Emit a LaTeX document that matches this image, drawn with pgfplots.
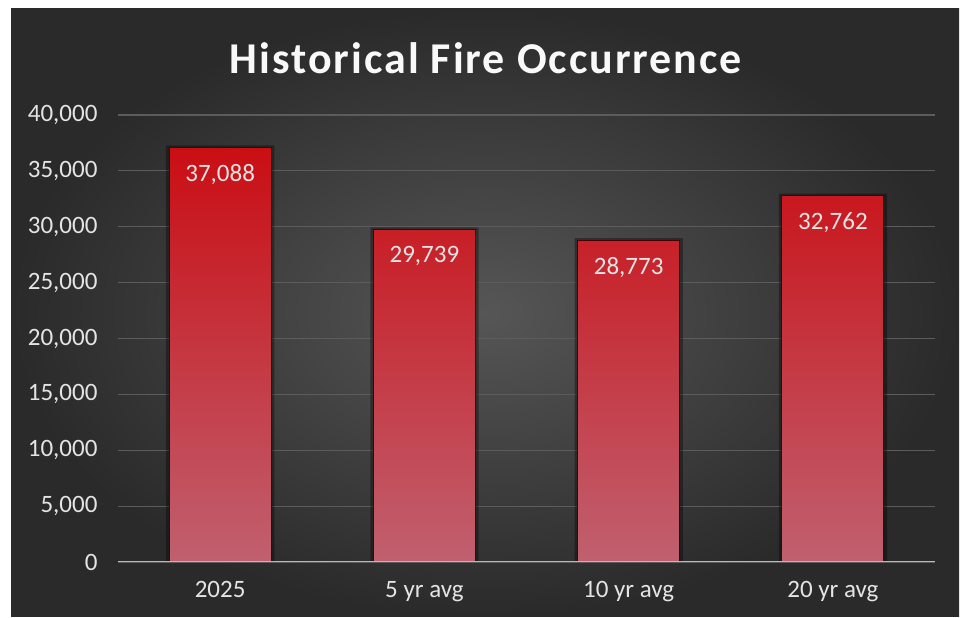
\documentclass[border=0pt]{standalone}
\usepackage{fontspec}
\setmainfont{Carlito}
\usepackage{pgfplots}
\pgfplotsset{compat=1.18}
\definecolor{bgdark}{HTML}{2A2A2A}
\definecolor{bglight}{HTML}{565656}
\definecolor{gridc}{HTML}{5C5C5C}
\definecolor{bartop}{HTML}{CA0E14}
\definecolor{barbot}{HTML}{C0606F}
\definecolor{txt}{HTML}{E4E4E4}

\begin{document}
\begin{tikzpicture}[x=1pt,y=1pt]
% page and dark chart area
\fill[white] (0,0) rectangle (969,618);
\shade[inner color=bglight, outer color=bgdark] (11,1) rectangle (959,609);
\node[text=white!95!gray, font=\fontsize{44}{48}\selectfont\bfseries\addfontfeature{LetterSpace=4.5}] at (486,560) {Historical Fire Occurrence};
\begin{axis}[
  at={(118pt,56pt)}, anchor=south west, scale only axis,
  width=817pt, height=447pt,
  xmin=-0.5, xmax=3.5, ymin=0, ymax=40000,
  xtick={0,1,2,3}, xticklabels={2025,5 yr avg,10 yr avg,20 yr avg},
  ytick={0,5000,...,40000}, scaled y ticks=false,
  ymajorgrids, grid style={gridc, line width=1.2pt},
  axis line style={draw=none}, major tick length=0pt,
  tick label style={font=\fontsize{25}{26}\selectfont, text=txt},
  yticklabel style={xshift=-17pt},
  xticklabel style={yshift=-16pt},
  /pgf/number format/.cd, 1000 sep={,}, assume math mode=true,
]
% soft shadow behind the bars
\addplot[ybar, bar width=0.53, fill=black, draw=none, opacity=0.35, forget plot]
  coordinates {(0,37288) (1,29939) (2,28973) (3,32962)};
\addplot[ybar, bar width=0.5, top color=bartop, bottom color=barbot,
  draw=black!70!red, line width=1pt,
  nodes near coords,
  nodes near coords style={anchor=north, yshift=-13pt, text=txt, font=\fontsize{25}{26}\selectfont}]
  coordinates {(0,37088) (1,29739) (2,28773) (3,32762)};
\draw[gray!55, line width=2pt] (axis cs:-0.5,0) -- (axis cs:3.5,0);
\end{axis}
\end{tikzpicture}
\end{document}
